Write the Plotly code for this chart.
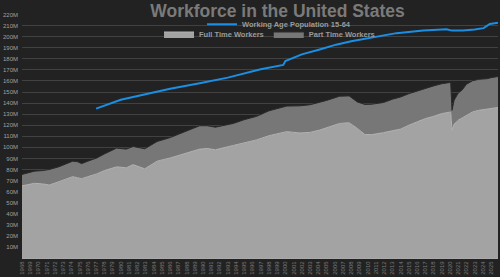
import plotly.graph_objects as go

# ---- data (millions) ----
worker_dates = ["1968-01-01","1969-07-01","1970-07-01","1971-05-01","1972-07-01","1973-07-01","1974-03-01","1974-10-01","1975-04-01","1976-01-01",
                "1977-02-01","1978-01-01","1979-07-01","1980-09-01","1981-07-01","1982-12-01","1984-06-01","1986-01-01","1987-07-01","1989-08-01",
                "1990-07-01","1991-07-01","1993-09-01","1995-01-01","1996-07-01","1998-01-01","2000-03-01","2001-10-01","2003-01-01","2004-03-01",
                "2005-01-01","2006-08-01","2007-10-01","2008-10-01","2009-09-01","2010-07-01","2011-12-01","2013-01-01","2014-01-01","2015-01-01",
                "2016-01-01","2017-01-01","2018-01-01","2019-01-01","2020-01-01","2020-02-01","2020-04-01","2020-07-01","2021-01-01","2021-07-01",
                "2022-01-01","2022-10-01","2023-07-01","2024-01-01","2024-07-01","2025-01-01","2025-11-01"]
full_time = [65.2,67.5,67,66,69,72,73.5,72.5,71.7,73.5,
             76,79,82.4,81.5,84.4,80.6,87.5,90.4,94,98.4,
             99,97.8,101.7,104,106.7,110.5,114.2,113,113.5,115.6,
             117.7,121.6,122.2,117.1,111.5,111.5,113.3,115,116.5,120,
             123,126,128,130.5,131.8,132,115.5,121,124.5,126.5,
             129,132,133.5,134,134.5,135.5,136]
part_time = [10.3,11,12,14,13.5,13.5,14,14.5,13.6,14,
             14.4,15,16.9,16.9,16.4,18.1,17.8,18.4,19,21.1,
             20.5,20.4,19.9,21,21.3,22.5,23.1,24.5,25,24.9,
             24.7,24.6,24.3,23.9,27.3,27.5,27.2,28.5,29,28.5,
             28,27,27.5,27,26.7,26.7,18,21.5,24.5,25.5,
             28,28.2,28,27.5,27.5,27.5,28]

pop_dates = ["1977-01-01","1980-01-01","1983-01-01","1986-01-01","1989-08-01","1993-01-01","1997-01-01","1999-10-01","2000-01-01","2002-01-01",
             "2004-03-01","2006-03-01","2008-01-01","2009-07-01","2011-01-01","2013-07-01","2016-10-01","2019-08-01","2020-04-01","2021-08-01",
             "2023-01-01","2024-02-01","2024-11-01","2025-11-01"]
working_age_pop = [135,143,148,153,158,163,170.6,174.5,178,184,
                   188.4,192.8,195.8,197.9,200,203.2,205.6,206.8,205.5,205.6,
                   206.5,207.7,211.5,212.5]

y_ticks = list(range(10, 221, 10))
y_tick_text = [f"{v}M" for v in y_ticks]

FONT = "Liberation Sans, Arial, sans-serif"

fig = go.Figure()
fig.add_trace(go.Scatter(x=worker_dates, y=full_time, name="Full Time Workers", stackgroup="w",
                         mode="lines", line=dict(width=1, color="#b4b4b4"), fillcolor="#a3a3a3",
                         legend="legend2"))
fig.add_trace(go.Scatter(x=worker_dates, y=part_time, name="Part Time Workers", stackgroup="w",
                         mode="lines", line=dict(width=1, color="#2a2a2a"), fillcolor="#777777",
                         legend="legend2"))
fig.add_trace(go.Scatter(x=pop_dates, y=working_age_pop, name="Working Age Population 15-64",
                         mode="lines", line=dict(width=2, color="#1a8fe3"), legend="legend"))

fig.update_layout(
    width=500, height=277,
    margin=dict(l=22, r=2, t=14, b=16),
    paper_bgcolor="#222222", plot_bgcolor="#222222",
    title=dict(text="<b>Workforce in the United States</b>", x=0.555, xanchor="center",
               y=0.962, yanchor="middle", yref="container",
               font=dict(family=FONT, size=17.5, color="#7a7a7a")),
    legend=dict(orientation="h", x=0.54, xanchor="center", y=0.958, yanchor="middle",
                bgcolor="rgba(0,0,0,0)", font=dict(family=FONT, size=7.5, color="#9a9a9a", weight="bold"),
                itemwidth=30),
    legend2=dict(orientation="h", x=0.52, xanchor="center", y=0.918, yanchor="middle",
                 traceorder="normal",
                 bgcolor="rgba(0,0,0,0)", font=dict(family=FONT, size=7.5, color="#9a9a9a", weight="bold"),
                 itemwidth=30),
    xaxis=dict(type="date", range=["1968-01-01", "2025-11-01"], dtick="M12", tick0="1968-01-01",
               tickformat="%Y", tickangle=-90, tickfont=dict(family=FONT, size=6, color="#7a7a7a"),
               showgrid=False, showline=True, linecolor="#aaaaaa", linewidth=1, zeroline=False,
               ticks=""),
    yaxis=dict(range=[0, 220.5], tickvals=y_ticks, ticktext=y_tick_text,
               tickfont=dict(family=FONT, size=6, color="#a0a0a0"), ticklabelstandoff=3,
               showgrid=True, gridcolor="rgba(255,255,255,0.14)", gridwidth=1,
               zeroline=False, showline=False, layer="above traces", ticks=""),
    showlegend=True,
)

fig.write_html("out.html")
